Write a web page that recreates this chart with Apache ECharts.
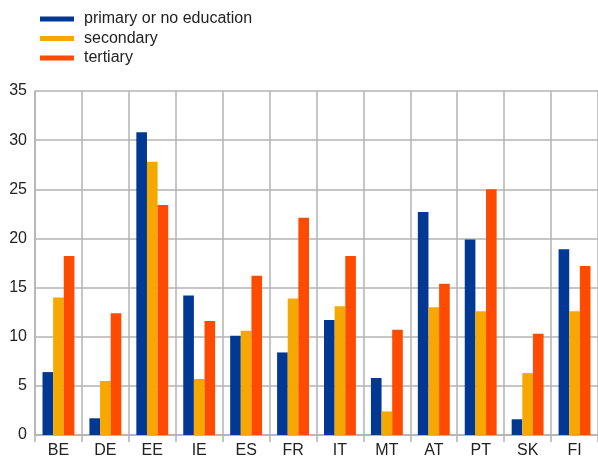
<!DOCTYPE html>
<html>
<head>
<meta charset="utf-8">
<script src="https://cdn.jsdelivr.net/npm/echarts@6/dist/echarts.min.js"></script>
<style>html,body{margin:0;padding:0;background:#fff}#c{width:598px;height:465px}</style>
</head>
<body>
<div id="c"></div>
<script>
const categories = ['BE','DE','EE','IE','ES','FR','IT','MT','AT','PT','SK','FI'];
const seriesNames = ['primary or no education','secondary','tertiary'];
const primary = [6.4, 1.7, 30.8, 14.2, 10.1, 8.4, 11.7, 5.8, 22.7, 19.9, 1.6, 18.9];
const secondary = [14.0, 5.5, 27.8, 5.7, 10.6, 13.9, 13.1, 2.4, 13.0, 12.6, 6.3, 12.6];
const tertiary = [18.2, 12.4, 23.4, 11.6, 16.2, 22.1, 18.2, 10.7, 15.4, 25.0, 10.3, 17.2];
const colors = ['#003893', '#f7a800', '#ff4b00'];
const yTicks = [0, 5, 10, 15, 20, 25, 30, 35];

const chart = echarts.init(document.getElementById('c'), null, {renderer: 'canvas'});
const font = 'Liberation Sans, Arial, sans-serif';
const mk = (name, data, i) => ({
  name, type: 'bar', data, barGap: '0%', barCategoryGap: '32%',
  itemStyle: {color: colors[i]}, animation: false
});
chart.setOption({
  animation: false,
  color: colors,
  legend: {
    orient: 'vertical', left: 35, top: 6, itemGap: 3.5,
    itemWidth: 34, itemHeight: 5, icon: 'rect',
    textStyle: {fontFamily: font, fontSize: 16, color: '#222', padding: [0,0,0,5]},
    data: seriesNames
  },
  grid: {left: 35, top: 91, width: 564, bottom: 30, containLabel: false},
  xAxis: {
    type: 'category', data: categories,
    axisLine: {lineStyle: {color: '#b3b3b3', width: 1.5}},
    axisTick: {show: true, length: 7, lineStyle: {color: '#b3b3b3', width: 1.5}},
    splitLine: {show: true, lineStyle: {color: '#b3b3b3', width: 1.5}},
    axisLabel: {fontFamily: font, fontSize: 16, color: '#222', margin: 8}
  },
  yAxis: {
    type: 'value', min: yTicks[0], max: yTicks[yTicks.length-1], interval: 5,
    axisLine: {show: true, lineStyle: {color: '#b3b3b3', width: 1.5}},
    axisTick: {show: false},
    splitLine: {show: true, lineStyle: {color: '#b3b3b3', width: 1.5}},
    axisLabel: {fontFamily: font, fontSize: 16, color: '#222', margin: 8}
  },
  series: [mk(seriesNames[0], primary, 0), mk(seriesNames[1], secondary, 1), mk(seriesNames[2], tertiary, 2)]
});
</script>
</body>
</html>
